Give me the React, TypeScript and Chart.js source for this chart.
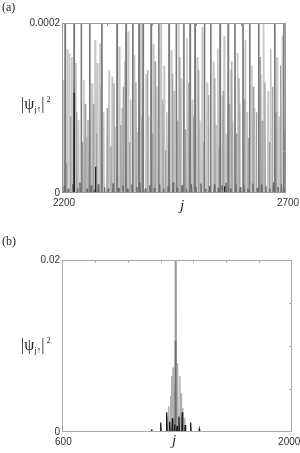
import React, { useEffect, useRef } from "react";
import { Chart, registerables } from "chart.js";
Chart.register(...registerables);

// ---------- Panel (a) data : spikes [j, |psi|^2 in units of 1e-4] ----------
const A_X_RANGE = [2200, 2700];
const A_Y_MAX = 0.0002;
const A_UNIT = 1e-4;
const A_X_LABELS = ["2200", "2700"];
const A_Y_LABELS = ["0", "0.0002"];
const A_TOP_TICKS = [2300, 2400, 2500, 2600];
const A_RIGHT_TICKS = [0.00005, 0.0001, 0.00015];

const aDark: [number, number][] = [
  [2207, 3], [2227, 3], [2243, 3], [2262, 3], [2289, 3], [2323, 3], [2343, 3], [2358, 3],
  [2372, 3], [2381, 3], [2399, 3], [2416, 3], [2439, 3], [2455, 3], [2472, 3], [2486, 3],
  [2497, 3], [2518, 3], [2532, 3], [2553, 3], [2571, 3], [2586, 3], [2604, 3], [2619, 3],
  [2639, 3], [2675, 3], [2695, 3],
];
const aLight: [number, number][] = [
  [2203, 1.33], [2212, 1.69], [2217, 1.64], [2222, 1.6], [2231, 1.53], [2237, 0.86], [2249, 1.33],
  [2254, 0.66], [2267, 1.29], [2274, 1.8], [2279, 1.53], [2285, 1.76], [2293, 0.95], [2305, 1.45],
  [2312, 1.37], [2320, 0.78], [2328, 1.72], [2334, 1.0], [2340, 1.55], [2348, 1.9], [2353, 1.1],
  [2362, 1.62], [2368, 0.72], [2376, 2.3], [2388, 1.4], [2393, 0.9], [2404, 1.75], [2412, 1.25],
  [2421, 2.3], [2428, 1.5], [2434, 0.95], [2444, 1.68], [2450, 1.2], [2460, 2.3], [2466, 1.35],
  [2479, 1.82], [2491, 1.1], [2502, 1.6], [2508, 0.85], [2513, 1.95], [2524, 1.3], [2538, 1.55],
  [2544, 0.8], [2548, 1.7], [2558, 1.15], [2562, 1.85], [2567, 0.7], [2577, 1.45], [2581, 0.85],
  [2592, 1.65], [2597, 1.05], [2609, 1.8], [2613, 0.95], [2624, 1.5], [2630, 1.0], [2644, 1.4],
  [2650, 2.3], [2660, 1.2], [2666, 1.7], [2680, 1.6], [2685, 0.9], [2692, 1.85], [2699, 1.3],
];
const aMid: [number, number][] = [
  [2210, 0.35], [2219, 0.9], [2233, 0.95], [2246, 0.6], [2252, 1.05], [2258, 0.86], [2270, 1.05],
  [2277, 0.7], [2287, 1.25], [2301, 1.0], [2309, 0.55], [2316, 1.29], [2331, 0.8], [2337, 1.25],
  [2351, 0.6], [2365, 1.3], [2378, 0.9], [2391, 1.45], [2402, 0.7], [2408, 1.55], [2425, 1.1],
  [2431, 0.5], [2447, 1.4], [2458, 0.85], [2463, 1.6], [2476, 0.75], [2483, 1.3], [2494, 0.9],
  [2505, 1.45], [2516, 0.6], [2527, 1.15], [2541, 1.35], [2551, 0.55], [2560, 1.2], [2574, 1.05],
  [2579, 1.55], [2589, 0.7], [2595, 1.35], [2607, 1.1], [2616, 0.65], [2627, 1.25], [2634, 0.95],
  [2642, 1.6], [2647, 0.85], [2653, 1.3], [2663, 0.6], [2670, 1.25], [2678, 0.95], [2688, 1.5],
  [2697, 0.75],
];
const aBlack: [number, number][] = [[2227, 1.18], [2275, 0.31], [2563, 0.08]];
const aClutter: [number, number][] = [
  [2205, 0.08], [2214, 0.05], [2224, 0.1], [2235, 0.06], [2240, 0.12], [2256, 0.05], [2265, 0.09],
  [2272, 0.04], [2281, 0.1], [2295, 0.07], [2303, 0.05], [2314, 0.11], [2326, 0.06], [2336, 0.09],
  [2346, 0.05], [2356, 0.1], [2367, 0.07], [2374, 0.12], [2386, 0.05], [2396, 0.09], [2406, 0.06],
  [2418, 0.1], [2427, 0.05], [2437, 0.08], [2448, 0.12], [2457, 0.06], [2468, 0.09], [2478, 0.05],
  [2489, 0.1], [2499, 0.07], [2510, 0.11], [2521, 0.05], [2529, 0.08], [2540, 0.1], [2549, 0.06],
  [2557, 0.09], [2566, 0.12], [2576, 0.05], [2588, 0.1], [2598, 0.07], [2606, 0.09], [2615, 0.05],
  [2626, 0.11], [2636, 0.06], [2645, 0.1], [2655, 0.08], [2664, 0.05], [2672, 0.12], [2682, 0.07],
  [2690, 0.1], [2698, 0.06],
];

// ---------- Panel (b) data : spikes [j, |psi|^2] ----------
const B_X_RANGE = [600, 2000];
const B_Y_MAX = 0.02;
const B_X_LABELS = ["\u00a0600", "2000\u00a0\u00a0"];
const B_Y_LABELS = ["0", "0.02"];
const B_TOP_TICKS = [800, 1000, 1200, 1400, 1600, 1800];
const B_RIGHT_TICKS = [0.005, 0.01, 0.015];

const bCenter: [number, number][] = [[1292, 0.03]];
const bCore: [number, number][] = [[1290, 0.0106]];
const bEnvelope: [number, number][] = [
  [1242, 0.0018], [1250, 0.003], [1260, 0.0042], [1268, 0.0065], [1276, 0.0075], [1283, 0.0055],
  [1298, 0.006], [1305, 0.008], [1318, 0.0065], [1325, 0.0045], [1335, 0.0028], [1345, 0.0016],
];
const bBlack: [number, number][] = [
  [1146, 0.0003], [1201, 0.0011], [1237, 0.0023], [1255, 0.0012], [1272, 0.0016], [1285, 0.0009],
  [1300, 0.0007], [1312, 0.0018], [1332, 0.0023], [1350, 0.0008], [1383, 0.0011], [1436, 0.0003],
];

// ---------------------------------------------------------------------------
const spikes = (list: [number, number][], w: number, unit = 1) =>
  list
    .slice()
    .sort((a, b) => a[0] - b[0])
    .flatMap(([j, h]) => [
      { x: j - w, y: 0 },
      { x: j, y: h * unit },
      { x: j + w, y: 0 },
    ]);

const framePlugin = {
  id: "frame",
  afterDraw(chart: any, _args: any, opts: any) {
    const { ctx, chartArea: a, scales } = chart;
    ctx.save();
    ctx.strokeStyle = opts.color;
    ctx.lineWidth = 1;
    ctx.strokeRect(a.left + 0.5, a.top + 0.5, a.right - a.left - 1, a.bottom - a.top - 1);
    ctx.beginPath();
    for (const v of opts.yTicks) {
      const y = Math.round(scales.y.getPixelForValue(v)) + 0.5;
      ctx.moveTo(a.right, y);
      ctx.lineTo(a.right - opts.len, y);
    }
    for (const v of opts.xTicks) {
      const x = Math.round(scales.x.getPixelForValue(v)) + 0.5;
      ctx.moveTo(x, a.top);
      ctx.lineTo(x, a.top + opts.len);
    }
    ctx.stroke();
    ctx.restore();
  },
};

const tickFont = { family: "'Liberation Sans', Arial, sans-serif", size: 10 };

function makeOptions(p: {
  xMin: number; xMax: number; yMax: number; xLabels: string[]; yLabels: string[];
  yWidth: number; xHeight: number; padTop: number; padRight: number; labelOffset: number;
  topTicks: number[]; rightTicks: number[]; frame: string;
}) {
  return {
    responsive: false,
    animation: false,
    devicePixelRatio: 1,
    events: [],
    layout: { padding: { top: p.padTop, right: p.padRight, left: 0, bottom: 0 } },
    plugins: {
      legend: { display: false },
      tooltip: { enabled: false },
      frame: { color: p.frame, len: 3, xTicks: p.topTicks, yTicks: p.rightTicks },
    },
    elements: { point: { radius: 0 }, line: { tension: 0 } },
    scales: {
      x: {
        type: "linear",
        min: p.xMin,
        max: p.xMax,
        grid: { display: false, drawTicks: false },
        border: { display: false },
        ticks: {
          stepSize: p.xMax - p.xMin,
          padding: 4,
          maxRotation: 0,
          labelOffset: p.labelOffset,
          color: "#333",
          font: tickFont,
          callback: (_v: any, i: number) => p.xLabels[i],
        },
        afterFit: (s: any) => {
          s.height = p.xHeight;
          s.paddingLeft = 0;
          s.paddingRight = 0;
        },
      },
      y: {
        type: "linear",
        min: 0,
        max: p.yMax,
        grid: { display: false, drawTicks: false },
        border: { display: false },
        ticks: {
          stepSize: p.yMax,
          padding: 2,
          color: "#333",
          font: tickFont,
          callback: (_v: any, i: number) => p.yLabels[i],
        },
        afterFit: (s: any) => {
          s.width = p.yWidth;
          s.paddingTop = 0;
          s.paddingBottom = 0;
        },
      },
    },
  };
}

const ds = (data: any[], color: string, width: number, order: number) => ({
  data,
  showLine: true,
  borderColor: color,
  backgroundColor: color,
  borderWidth: width,
  pointRadius: 0,
  order,
});

function ChartCanvas({ config, top, height }: { config: any; top: number; height: number }) {
  const ref = useRef<HTMLCanvasElement | null>(null);
  useEffect(() => {
    if (!ref.current) return;
    const c = new Chart(ref.current, config);
    return () => c.destroy();
  }, []);
  return (
    <canvas
      ref={ref}
      width={300}
      height={height}
      style={{ position: "absolute", left: 0, top, width: 300, height }}
    />
  );
}

const serif = "'Liberation Serif', 'Times New Roman', serif";

function YLabel({ top }: { top: number }) {
  return (
    <div
      style={{
        position: "absolute",
        left: 21,
        top,
        fontFamily: serif,
        fontSize: 16,
        lineHeight: "16px",
        color: "#222",
        whiteSpace: "nowrap",
      }}
    >
      |ψ<span style={{ fontSize: 9, position: "relative", top: 3 }}>j↑</span>|
      <span style={{ fontSize: 8, position: "relative", top: -7, marginLeft: 2 }}>2</span>
    </div>
  );
}

export default function App() {
  const configA = {
    type: "scatter",
    data: {
      datasets: [
        ds(spikes(aLight, 1, A_UNIT), "#c6c6c6", 1.6, 5),
        ds(spikes(aMid, 0.9, A_UNIT), "#a2a2a2", 1.3, 4),
        ds(spikes(aDark, 0.5, A_UNIT), "#7a7a7a", 1.6, 3),
        ds(spikes(aClutter, 1.2, A_UNIT), "#6a6a6a", 1, 2),
        ds(spikes(aBlack, 0.4, A_UNIT), "#1a1a1a", 1.2, 1),
      ],
    },
    options: makeOptions({
      xMin: A_X_RANGE[0], xMax: A_X_RANGE[1], yMax: A_Y_MAX,
      xLabels: A_X_LABELS, yLabels: A_Y_LABELS,
      yWidth: 62, xHeight: 22, padTop: 23, padRight: 14, labelOffset: 2,
      topTicks: A_TOP_TICKS, rightTicks: A_RIGHT_TICKS, frame: "#9a9a9a",
    }),
    plugins: [framePlugin],
  };
  const configB = {
    type: "scatter",
    data: {
      datasets: [
        ds(spikes(bEnvelope, 2.5), "#b0b0b0", 1.4, 4),
        ds(spikes(bCenter, 2), "#9a9a9a", 2, 3),
        ds(spikes(bCore, 2), "#6e6e6e", 1.8, 2),
        ds(spikes(bBlack, 2.5), "#1a1a1a", 1.3, 1),
      ],
    },
    options: makeOptions({
      xMin: B_X_RANGE[0], xMax: B_X_RANGE[1], yMax: B_Y_MAX,
      xLabels: B_X_LABELS, yLabels: B_Y_LABELS,
      yWidth: 62, xHeight: 21, padTop: 45, padRight: 8, labelOffset: 0,
      topTicks: B_TOP_TICKS, rightTicks: B_RIGHT_TICKS, frame: "#aaaaaa",
    }),
    plugins: [framePlugin],
  };

  return (
    <div style={{ position: "absolute", left: 0, top: 0, width: 300, height: 453, background: "#fff" }}>
      <ChartCanvas config={configA} top={0} height={215} />
      <ChartCanvas config={configB} top={215} height={238} />
      <div style={{ position: "absolute", left: 2, top: 0, fontFamily: serif, fontSize: 12, color: "#222" }}>(a)</div>
      <div style={{ position: "absolute", left: 2, top: 234, fontFamily: serif, fontSize: 12, color: "#222" }}>(b)</div>
      <YLabel top={96} />
      <YLabel top={337} />
      <div style={{ position: "absolute", left: 180, top: 197, fontFamily: serif, fontStyle: "italic", fontSize: 15, color: "#222" }}>j</div>
      <div style={{ position: "absolute", left: 172, top: 432, fontFamily: serif, fontStyle: "italic", fontSize: 15, color: "#222" }}>j</div>
    </div>
  );
}
